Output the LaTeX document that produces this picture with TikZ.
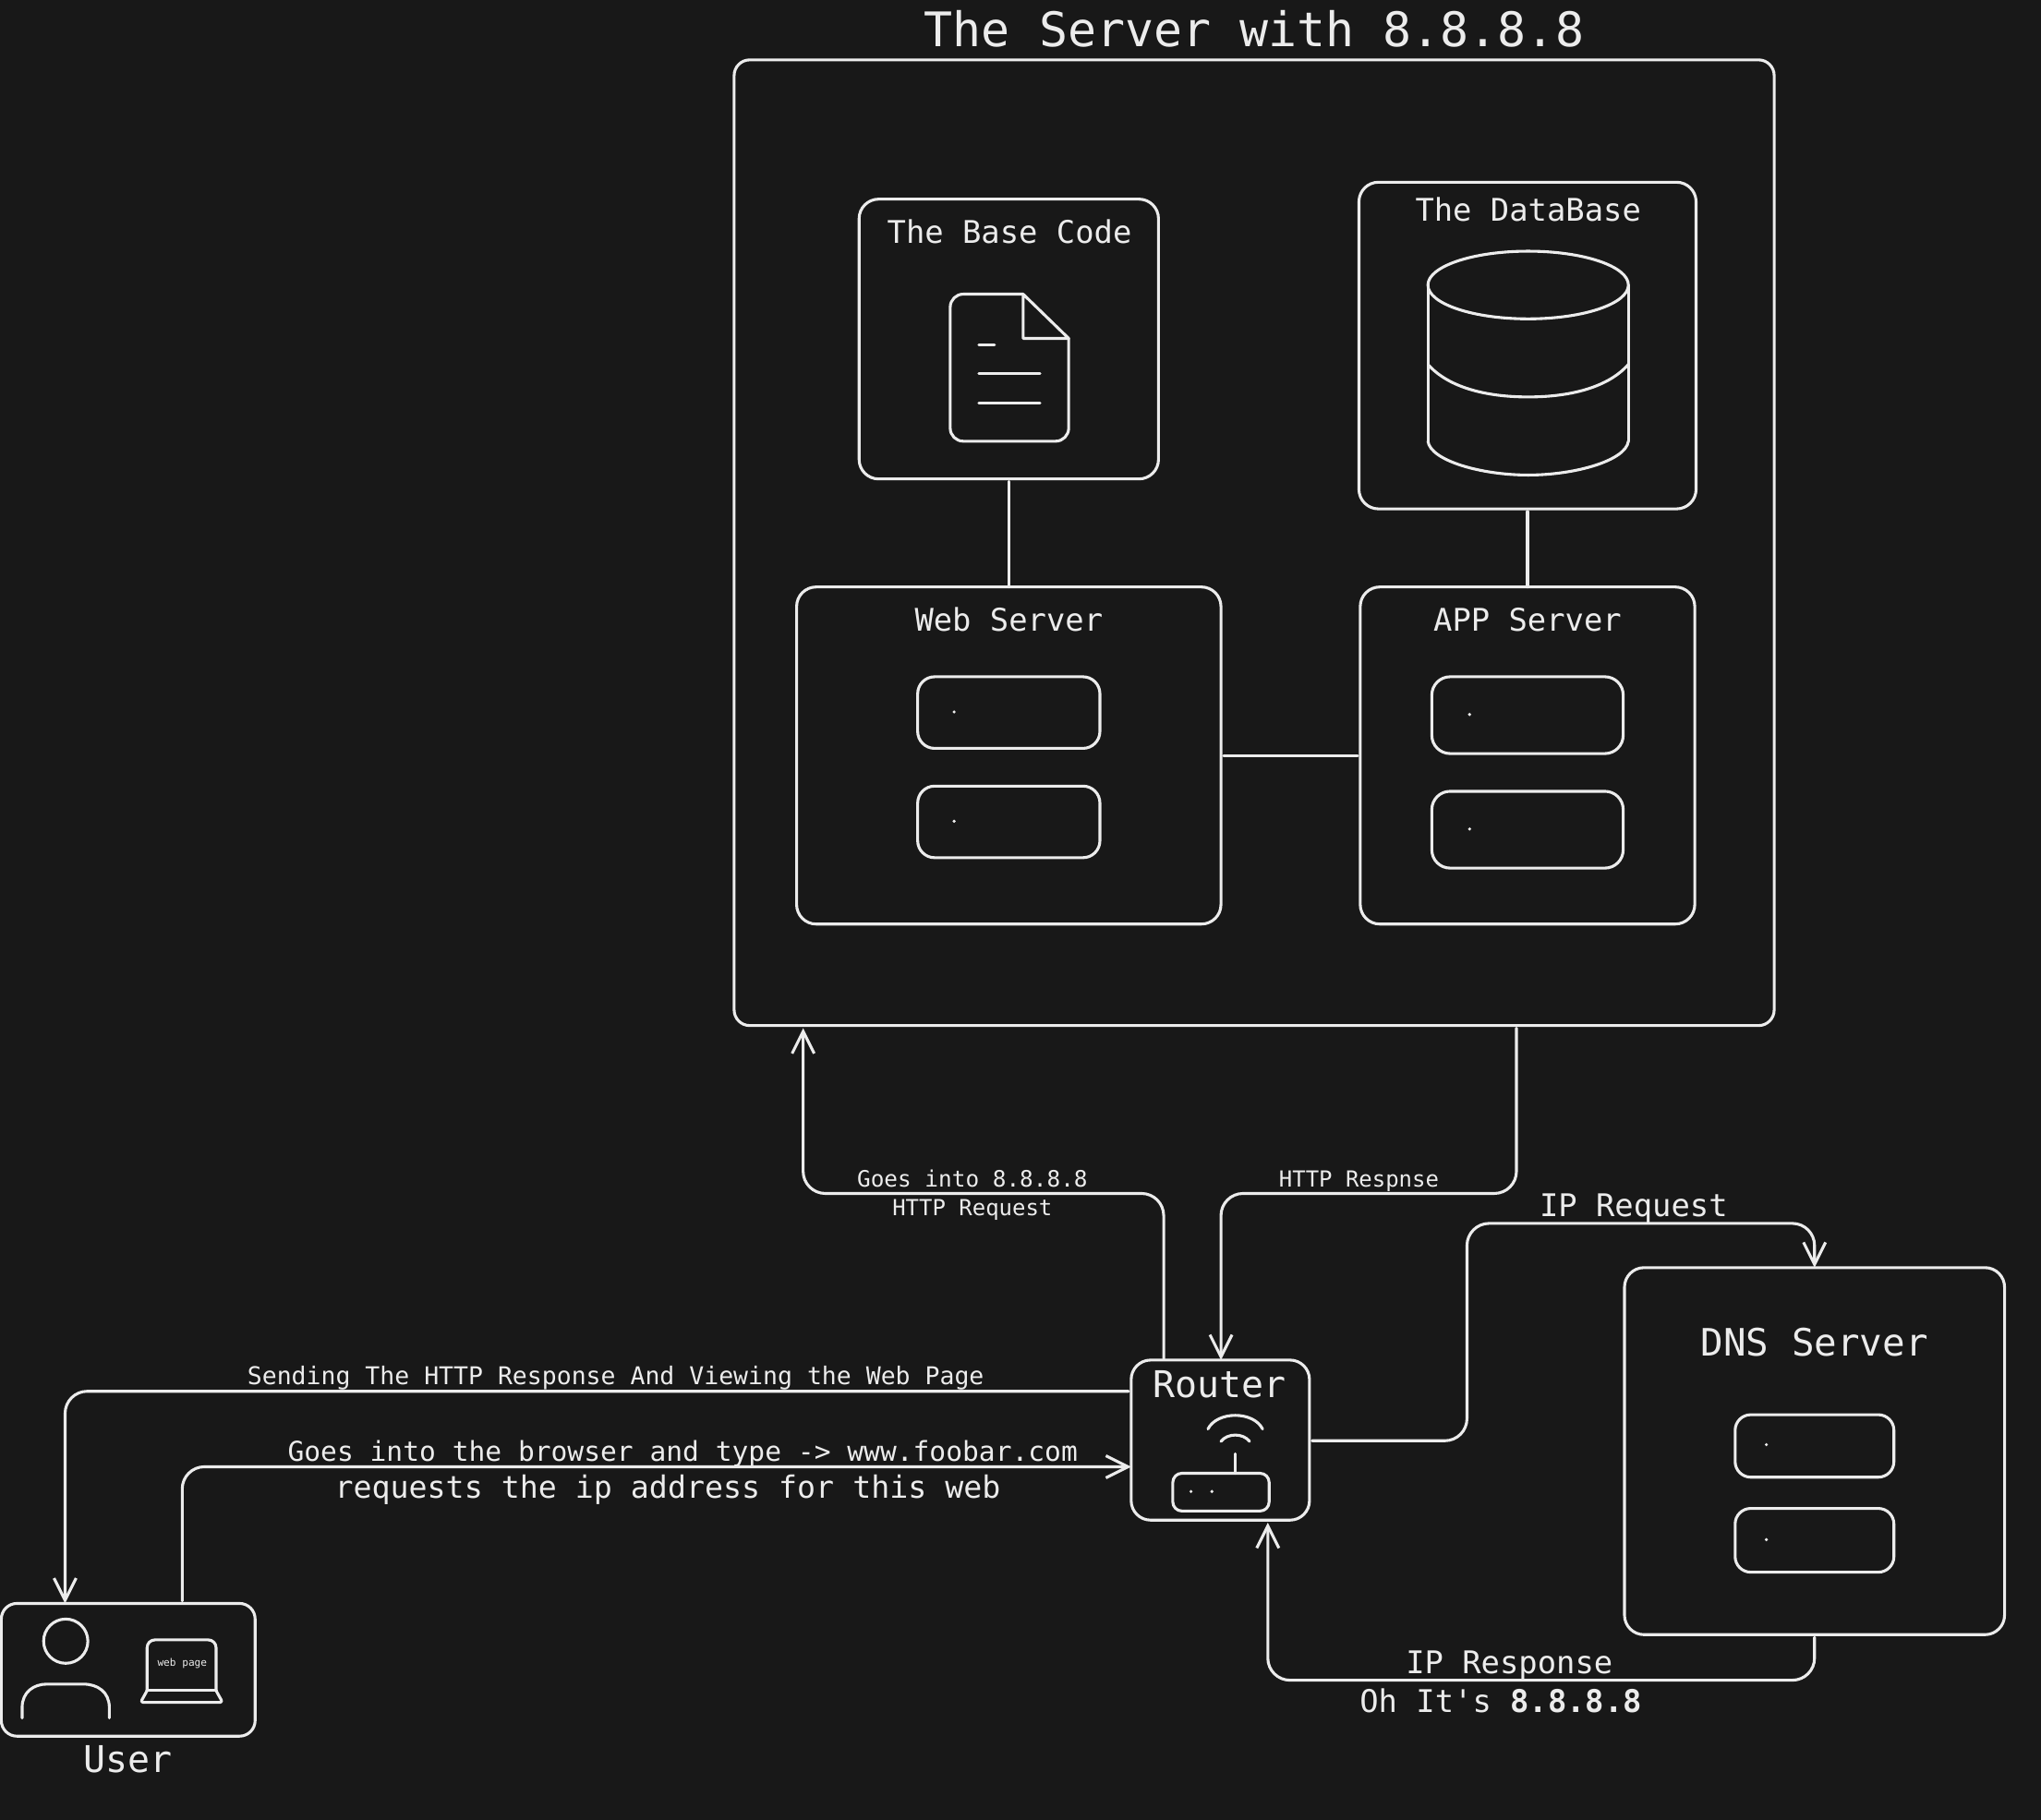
\documentclass[tikz,border=0pt]{standalone}
\usepackage{fontspec}
\setmainfont{DejaVu Sans Mono}
\newfontfamily\plainmono{DejaVu Sans Mono}
\usetikzlibrary{arrows.meta}
\definecolor{bgdark}{HTML}{181818}
\definecolor{ink}{HTML}{ECECEC}
\tikzset{
  x=1pt,y=-1pt,
  sk/.style={draw=ink,line width=2.2pt,line cap=round,line join=round},
  boxs/.style={sk,inner sep=0pt,outer sep=0pt,rounded corners=#1},
  boxs/.default=14pt,
  link/.style={sk},
  flow/.style={sk,rounded corners=17pt,-{Straight Barb[length=17pt,width=17pt,line width=2.2pt]}},
  txt/.style={text=ink,inner sep=0pt,anchor=base,font=\fontsize{#1}{#1}\selectfont},
  spot/.style={circle,fill=ink,inner sep=0pt,minimum size=2.6pt},
}
\newcommand{\boxat}[6]{\node[boxs=#6,minimum width={(#4-#2)*1pt},minimum height={(#5-#3)*1pt}] (#1) at ({(#2+#4)/2},{(#3+#5)/2}) {};}
\begin{document}
\begin{tikzpicture}
\useasboundingbox (0,0) rectangle (1568,1398.4);
\fill[bgdark] (0,0) rectangle (1568,1398.4);
% boxes
\boxat{server}{564}{46}{1363}{788}{12pt}
\boxat{base}{660}{153}{890}{368}{15pt}
\boxat{dbase}{1044}{140}{1303}{391}{15pt}
\boxat{web}{612}{451}{938}{710}{15pt}
\boxat{app}{1045}{451}{1302}{710}{15pt}
\boxat{webA}{705}{520}{845}{575}{13pt}
\boxat{webB}{705}{604}{845}{659}{13pt}
\boxat{appA}{1100}{520}{1247}{579}{14pt}
\boxat{appB}{1100}{608}{1247}{667}{14pt}
\boxat{dns}{1248}{974}{1540}{1256}{15pt}
\boxat{dnsA}{1333}{1087}{1455}{1135}{12pt}
\boxat{dnsB}{1333}{1159}{1455}{1208}{12pt}
\boxat{router}{869}{1045}{1006}{1168}{15pt}
\boxat{radio}{901}{1132}{975}{1161}{7pt}
\boxat{user}{1}{1232}{196}{1334}{12pt}
% dots
\node[spot] (d1) at (733,547) {};
\node[spot] (d2) at (733,631) {};
\node[spot] (d3) at (1129,549) {};
\node[spot] (d4) at (1129,637) {};
\node[spot] (d5) at (1357,1110) {};
\node[spot] (d6) at (1357,1183) {};
\node[spot] (d7) at (915,1146) {};
\node[spot] (d8) at (931,1146) {};
% document icon
\draw[sk,rounded corners=10pt] (786,226) -- (730,226) -- (730,339) -- (821,339) -- (821,260);
\draw[sk] (786,226) -- (821,260) -- (786,260) -- cycle;
\draw[sk] (752,265) -- (764,265) (752,287) -- (799,287) (752,310) -- (799,310);
% cylinder
\draw[sk] (1174,219) ellipse [x radius=77,y radius=26];
\draw[sk] (1097,219) -- (1097,339) (1251,219) -- (1251,339);
\draw[sk] (1097,280) .. controls (1112,297) and (1140,305) .. (1174,305) .. controls (1208,305) and (1236,297) .. (1251,280);
\draw[sk] (1097,339) .. controls (1099,354) and (1138,365) .. (1174,365) .. controls (1210,365) and (1249,354) .. (1251,339);
% wifi
\draw[sk] (928,1098) .. controls (935,1084) and (963,1084) .. (970,1098);
\draw[sk] (938,1107.5) .. controls (943,1101) and (955,1101) .. (960,1107.5);
\draw[sk] (949,1117) -- (radio.north -| 949,1132);
% person
\draw[sk] (50.5,1261) circle [radius=17];
\draw[sk] (17,1320) -- (17,1312) .. controls (17,1300) and (26,1294) .. (36,1294) -- (64,1294) .. controls (75,1294) and (84,1300) .. (84,1312) -- (84,1320);
% laptop
\draw[sk,rounded corners=6pt] (113,1299) -- (113,1260) -- (166,1260) -- (166,1299);
\draw[sk] (113,1299) -- (166,1299);
\draw[sk,rounded corners=2pt] (113,1299) -- (108,1308) -- (171,1308) -- (166,1299);
% plain links
\draw[link] ([yshift=-2pt]base.south) -- (web.north);
\draw[link] ([yshift=-2pt]dbase.south) -- (app.north);
\draw[link] ([xshift=2pt]web.east) -- ([xshift=-2pt]app.west);
% flows
\draw[flow] ([xshift=25pt,yshift=1pt]router.north west) -- (894,917) -- (617,917) -- ([xshift=53pt,yshift=-2pt]server.south west);
\draw[flow] ([xshift=601pt,yshift=-2pt]server.south west) -- (1165,917) -- (938,917) -- ([xshift=69pt]router.north west);
\draw[flow] ([xshift=2pt,yshift=-0.5pt]router.east) -- (1127,1107) -- (1127,940) -- (1394,940) -- (dns.north);
\draw[flow] ([yshift=-2pt]dns.south) -- (1394,1291) -- (974,1291) -- ([xshift=105pt,yshift=-2pt]router.south west);
\draw[flow] ([xshift=-2pt,yshift=-24pt]router.north west) -- (50,1069) -- ([xshift=49pt]user.north west);
\draw[flow] ([xshift=139pt,yshift=2pt]user.north west) -- (140,1127) -- ([yshift=41pt]router.south west);
% text
\node[txt=36.6] (tTitle) at (963.5,36) {The Server with 8.8.8.8};
\node[txt=24] (tBase) at (775.5,187) {The Base Code};
\node[txt=24] (tDb) at (1174,170) {The DataBase};
\node[txt=24] (tWeb) at (775,485) {Web Server};
\node[txt=24] (tApp) at (1173.5,485) {APP Server};
\node[txt=29] (tDns) at (1394,1042) {DNS Server};
\node[txt=28.3] (tRouter) at (937,1074) {Router};
\node[txt=28.3] (tUser) at (98,1362) {User};
\node[txt=17.3] (tGoesA) at (747,912) {Goes into 8.8.8.8};
\node[txt=17] (tGoesB) at (747,934) {HTTP Request};
\node[txt=17] (tResp) at (1044,912) {HTTP Respnse};
\node[txt=24] (tIpReq) at (1255,935) {IP Request};
\node[txt=18.8] (tSend) at (473,1064) {Sending The HTTP Response And Viewing the Web Page};
\node[txt=21] (tType) at (524.5,1123) {Goes into the browser and type -> www.foobar.com};
\node[txt=23.6] (tAsk) at (513,1151) {requests the ip address for this web};
\node[txt=24] (tIpResp) at (1159.5,1286) {IP Response};
\node[txt=24] (tOh) at (1153,1316) {Oh It{\plainmono'}s \textbf{8.8.8.8}};
\node[txt=7.9] (tPage) at (140,1280) {web page};
\end{tikzpicture}
\end{document}
